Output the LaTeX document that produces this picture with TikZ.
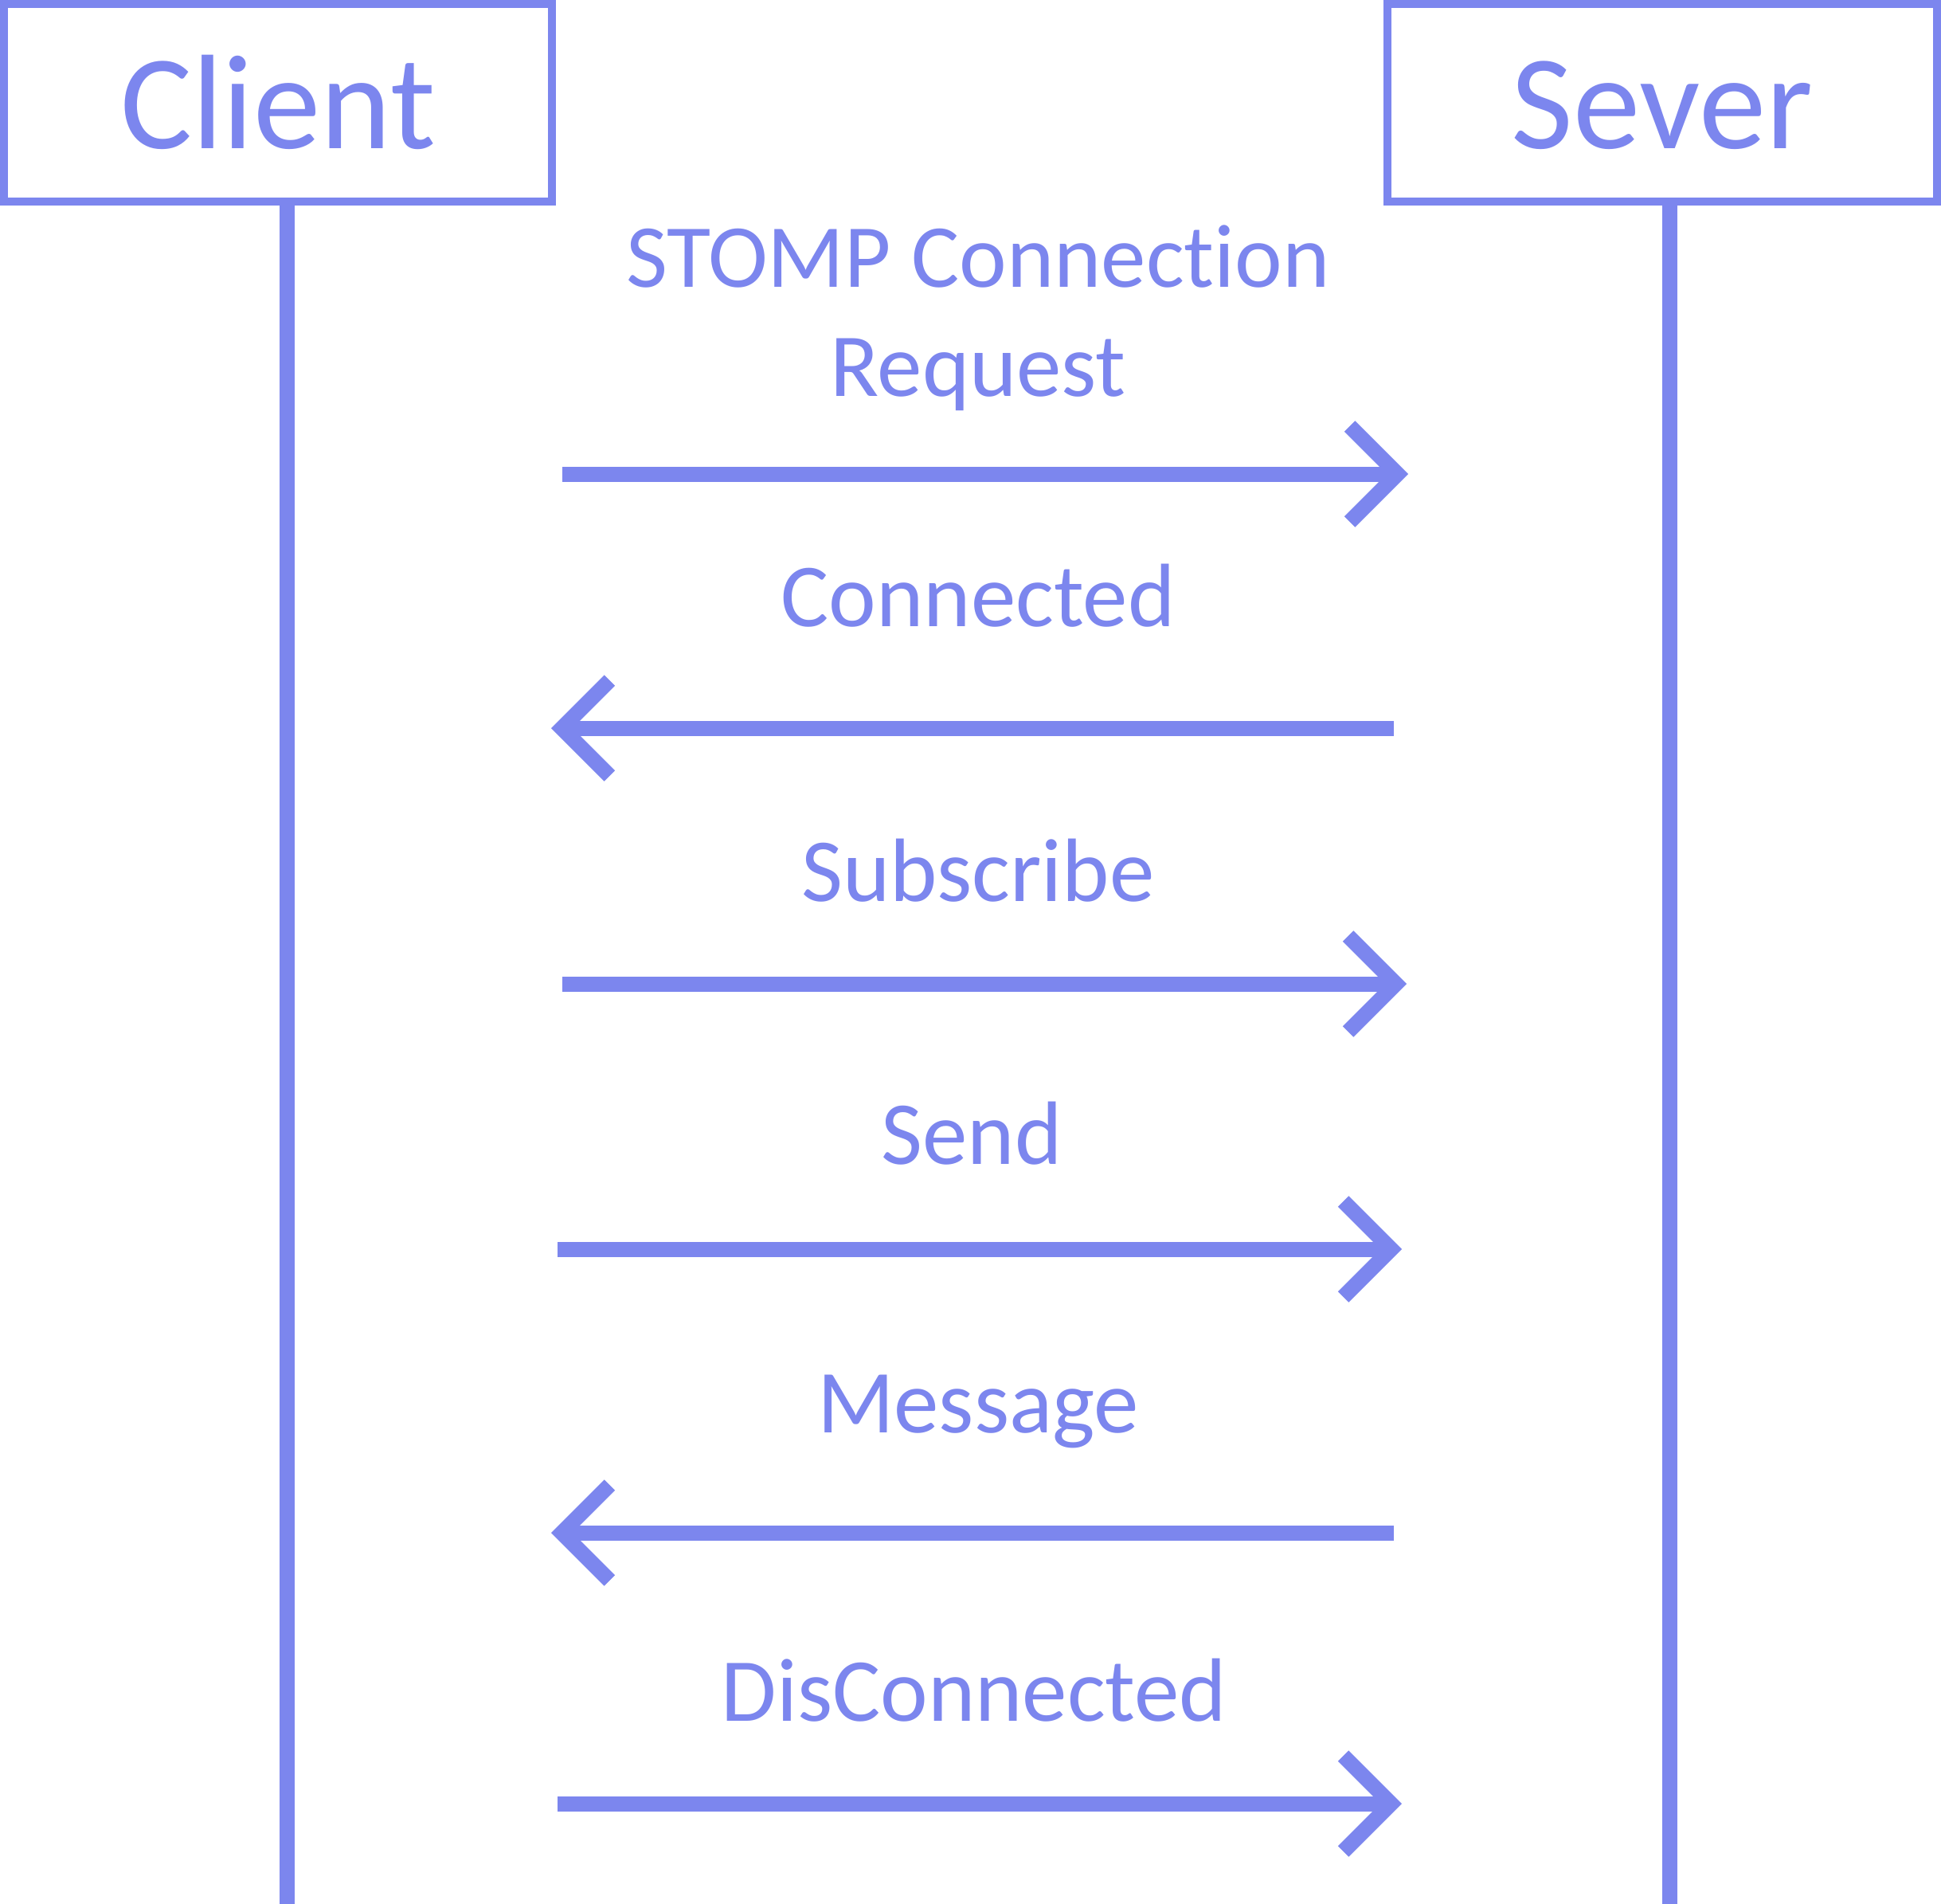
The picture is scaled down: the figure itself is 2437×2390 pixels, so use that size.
\documentclass[tikz,border=0pt]{standalone}
\usepackage{fontspec}
\setmainfont{Carlito}[Ligatures=NoCommon]
\usetikzlibrary{arrows.meta}
\definecolor{seqblue}{RGB}{124,134,238}
\begin{document}
\begin{tikzpicture}[x=1pt,y=-1pt,
  actor/.style={draw=seqblue,line width=10pt,fill=white,text=seqblue,
    font=\fontsize{169}{200}\selectfont,text height=114pt,text depth=0pt,inner sep=0pt},
  life/.style={draw=seqblue,line width=19pt},
  msg/.style={draw=seqblue,line width=19pt,
    -{Straight Barb[length=60pt 0,width=120pt 0,line cap=butt,line join=miter]}},
  lbl/.style={text=seqblue,font=\fontsize{113}{137}\selectfont,anchor=base,align=center,inner sep=0pt}]
\useasboundingbox (0,0) rectangle (2437,2390);
\fill[white] (0,0) rectangle (2437,2390);
% lifelines (drawn first, boxes cover their top ends)
\coordinate (ctop) at (360,200);
\coordinate (cend) at (360,2390);
\coordinate (stop) at (2096,200);
\coordinate (send) at (2096,2390);
\draw[life] (ctop) -- (cend);
\draw[life] (stop) -- (send);
% actors
\node[actor,minimum width=688pt,minimum height=248pt] (client) at (349,129) {Client};
\node[actor,minimum width=690pt,minimum height=248pt] (server) at (2087,129) {Sever};
% messages
\coordinate (m1a) at (706,595);  \coordinate (m1b) at (1768,595);
\coordinate (m2a) at (1750,914); \coordinate (m2b) at (692,914);
\coordinate (m3a) at (706,1235); \coordinate (m3b) at (1766,1235);
\coordinate (m4a) at (700,1568); \coordinate (m4b) at (1760,1568);
\coordinate (m5a) at (1750,1924); \coordinate (m5b) at (692,1924);
\coordinate (m6a) at (700,2264); \coordinate (m6b) at (1760,2264);
\draw[msg] (m1a) -- (m1b);
\draw[msg] (m2a) -- (m2b);
\draw[msg] (m3a) -- (m3b);
\draw[msg] (m4a) -- (m4b);
\draw[msg] (m5a) -- (m5b);
\draw[msg] (m6a) -- (m6b);
% labels
\node[lbl] (l1) at (1228,497) {STOMP Connection\\Request};
\node[lbl] (l2) at (1228,786) {Connected};
\node[lbl] (l3) at (1228,1131) {Subscribe};
\node[lbl] (l4) at (1220,1461) {Send};
\node[lbl] (l5) at (1228,1798) {Message};
\node[lbl] (l6) at (1223,2160) {DisConnected};
\end{tikzpicture}
\end{document}
